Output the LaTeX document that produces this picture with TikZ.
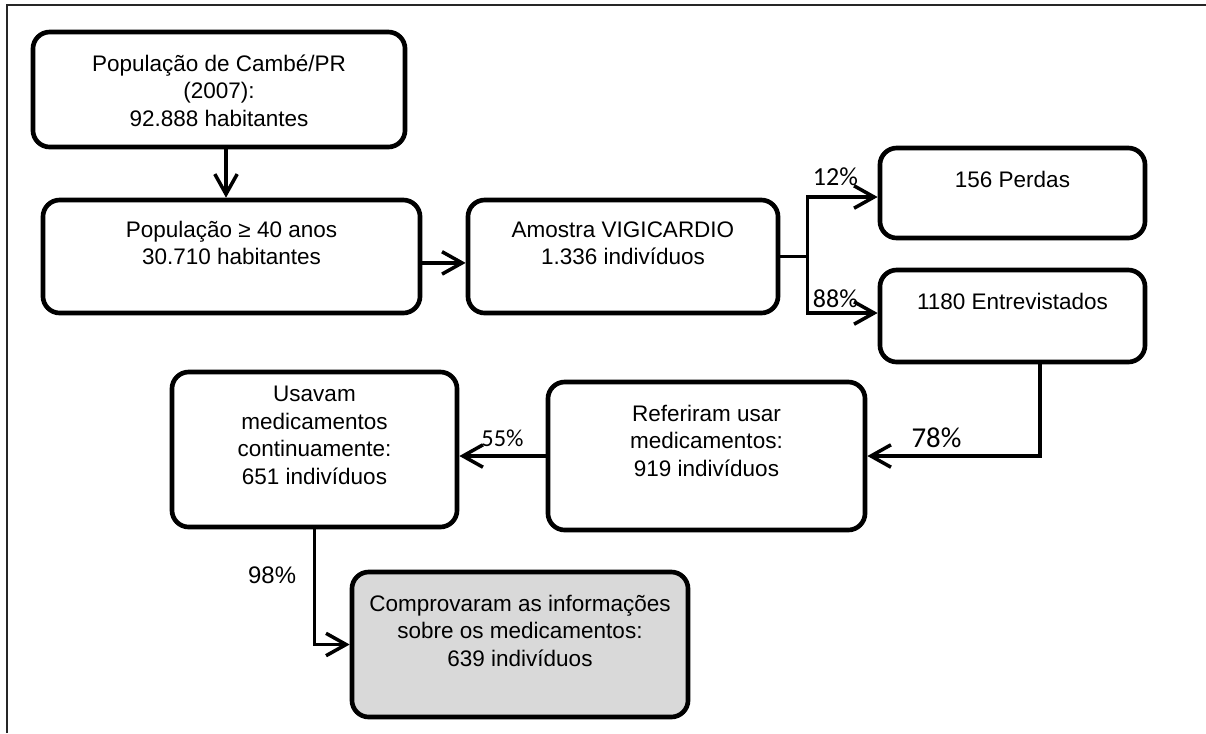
\documentclass[tikz,border=0pt]{standalone}
\usepackage{fontspec}
\setmainfont{Liberation Sans}
\newfontfamily\pctfont{Carlito}
\usetikzlibrary{arrows.meta}
\definecolor{boxgray}{HTML}{D9D9D9}
\newcommand{\boxtxt}[4][0.98cm]{\parbox[c][#3][t]{#2}{\centering\rule{0pt}{#1}#4}}

\begin{document}
\begin{tikzpicture}[x=0.025cm,y=-0.025cm]
\tikzset{box/.style={draw, line width=3.3pt, rounded corners=0.42cm, inner sep=0pt,
                font=\fontsize{16}{19.5}\selectfont},
         conn/.style={line width=2.5pt, -{Straight Barb[length=0.5cm,width=0.56cm]}},
         pct/.style={font=\pctfont\fontsize{18.5}{20}\selectfont, inner sep=1pt}}

\useasboundingbox (0,0) rectangle (1206,733);
\draw[line width=1.5pt, black!85] (7,733) -- (7,5) -- (1206,5);

\node[box] (pop) at (219,89.5) {\boxtxt{9.3cm}{2.875cm}{População de Cambé/PR\\(2007):\\92.888 habitantes}};
\node[box] (idade) at (231.5,256.5) {\boxtxt[0.93cm]{9.425cm}{2.825cm}{População ≥ 40 anos\\30.710 habitantes}};
\node[box] (amostra) at (623,256.5) {\boxtxt[0.93cm]{7.75cm}{2.825cm}{Amostra VIGICARDIO\\1.336 indivíduos}};
\node[box] (perdas) at (1012.5,193) {\boxtxt{6.625cm}{2.25cm}{156 Perdas}};
\node[box] (entrev) at (1012.5,316) {\boxtxt{6.625cm}{2.3cm}{1180 Entrevistados}};
\node[box] (refer) at (706.5,456) {\boxtxt{7.925cm}{3.7cm}{Referiram usar\\medicamentos:\\919 indivíduos}};
\node[box] (usavam) at (314.5,449.5) {\boxtxt[0.75cm]{7.125cm}{3.875cm}{Usavam\\medicamentos\\continuamente:\\ 651 indivíduos}};
\node[box, fill=boxgray] (comprov) at (520,644.5) {\boxtxt{8.4cm}{3.625cm}{Comprovaram as informações\\sobre os medicamentos:\\639 indivíduos}};

\draw[conn] ([xshift=0.175cm]pop.south) -- ([xshift=0.175cm]pop.south |- idade.north);
\draw[conn] ([yshift=-0.16cm]idade.east) -- ([yshift=-0.16cm]amostra.west);
\draw[line width=2.5pt] (amostra.east) -- ++(27,0) coordinate (fork);
\draw[conn] (fork) |- ([yshift=-0.1cm]perdas.west) node[pct, above=0.2cm, pos=0.7] {12\%};
\draw[conn] (fork) |- ([yshift=0.075cm]entrev.west) node[pct, above=0.05cm, pos=0.7] {88\%};
\draw[conn] ([xshift=0.69cm]entrev.south) |- (refer.east) node[pct, above=0.13cm, pos=0.8, font=\pctfont\fontsize{20.5}{22}\selectfont] {78\%};
\draw[conn] (refer.west) -- (refer.west -| usavam.east) node[pct, above=0.15cm, midway, font=\pctfont\fontsize{17.3}{20}\selectfont] {55\%};
\draw[conn] (usavam.south) |- (comprov.west) node[left=0.3cm, pos=0.2, font=\fontsize{17}{20}\selectfont] {98\%};

\end{tikzpicture}
\end{document}
